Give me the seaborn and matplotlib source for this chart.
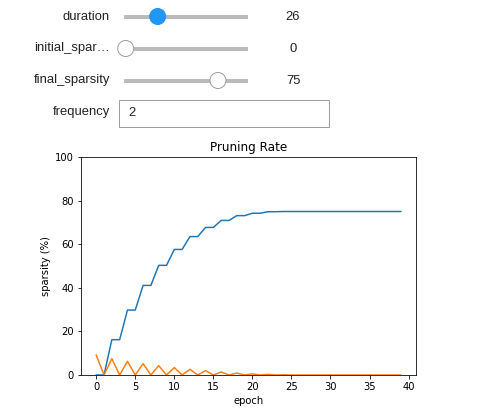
import numpy as np
import pandas as pd
import seaborn as sns
import matplotlib.pyplot as plt
from matplotlib.patches import Rectangle, Circle, FancyBboxPatch

# widget values
widget_labels = ["duration", "initial_spar\u2026", "final_sparsity", "frequency"]
widget_values = [26, 0, 75, 2]

# chart data
epochs = list(range(40))
sparsity = [0, 0, 16.2, 16.2, 29.8, 29.8, 41.1, 41.1, 50.3, 50.3,
            57.6, 57.6, 63.5, 63.5, 67.7, 67.7, 70.9, 70.9, 73.1, 73.1,
            74.2, 74.2, 74.9, 74.9] + [75] * 16
rate = [9.1, 0, 7.5, 0, 6.3, 0, 5.2, 0, 4.3, 0,
        3.4, 0, 2.6, 0, 2.0, 0, 1.4, 0, 0.9, 0,
        0.5, 0, 0.3, 0, 0.1] + [0] * 15

W, H = 483, 415
fig = plt.figure(figsize=(W / 72, H / 72), dpi=72)

# --- widgets drawn in pixel coordinates ---
wax = fig.add_axes([0, 0, 1, 1])
wax.set_xlim(0, W)
wax.set_ylim(H, 0)
wax.axis("off")

wfont = dict(family="Liberation Sans", fontsize=13, color="#222222")
rows_y = [16.5, 48.5, 80.5, 112.5]
for lab, y in zip(widget_labels, rows_y):
    wax.text(110, y, lab, ha="right", va="center", **wfont)

track_x0, track_x1 = 124, 248
handle_x0, handle_span = 125.7, 123
for i, v in enumerate(widget_values[:3]):
    y = rows_y[i]
    wax.add_patch(Rectangle((track_x0, y - 2), track_x1 - track_x0, 4,
                            facecolor="#bbbbbb", edgecolor="none"))
    hx = handle_x0 + v / 100 * handle_span
    if i == 0:
        wax.add_patch(Circle((hx, y), 8, facecolor="#2196f3", edgecolor="#2196f3", lw=1))
    else:
        wax.add_patch(Circle((hx, y), 8, facecolor="white", edgecolor="#9e9e9e", lw=1))
    wax.text(293, y, str(v), ha="center", va="center", **wfont)

wax.add_patch(Rectangle((118.5, 99.5), 210, 27, facecolor="white",
                        edgecolor="#9e9e9e", lw=1))
wax.text(128, rows_y[3], str(widget_values[3]), ha="left", va="center", **wfont)

# --- plot ---
df = pd.DataFrame({
    "epoch": epochs * 2,
    "value": sparsity + rate,
    "series": ["sparsity"] * 40 + ["rate"] * 40,
})
ax = fig.add_axes([81 / W, 1 - 375 / H, (416 - 81) / W, (375 - 157) / H])
sns.lineplot(data=df, x="epoch", y="value", hue="series",
             palette=["#1f77b4", "#ff7f0e"], legend=False, lw=1.5, ax=ax)
ax.set_ylim(0, 100)
ax.set_xticks([0, 5, 10, 15, 20, 25, 30, 35, 40])
ax.set_title("Pruning Rate", fontsize=12)
ax.set_xlabel("epoch", fontsize=10)
ax.set_ylabel("sparsity (%)", fontsize=10)
ax.tick_params(labelsize=10)

fig.savefig("out.png", dpi=72)
